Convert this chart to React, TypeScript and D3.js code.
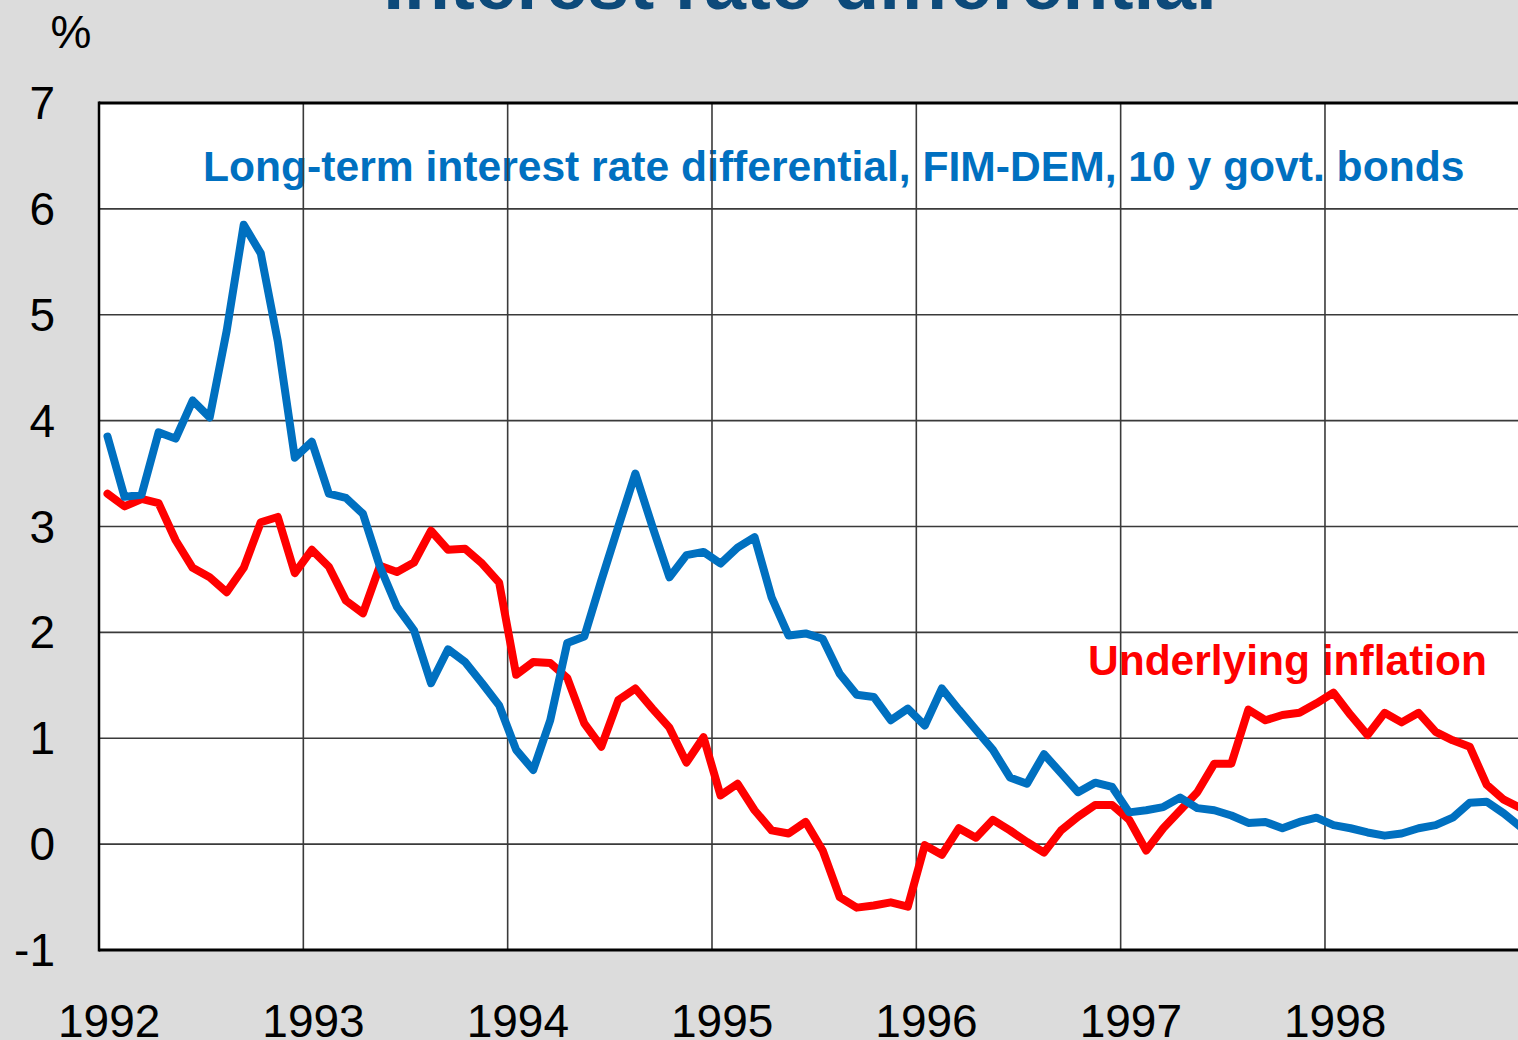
import React, { useEffect, useRef } from 'react';
import * as d3 from 'd3';

// Monthly data, Jan 1992 - Dec 1998 (%)
const years = [1992, 1993, 1994, 1995, 1996, 1997, 1998];
const yTicks = [-1, 0, 1, 2, 3, 4, 5, 6, 7];

const bondDiff = [
  3.85, 3.28, 3.30, 3.89, 3.83, 4.19, 4.03, 4.85, 5.85, 5.58, 4.75, 3.65,
  3.80, 3.31, 3.27, 3.12, 2.62, 2.24, 2.02, 1.52, 1.84, 1.72, 1.52, 1.31,
  0.89, 0.70, 1.17, 1.90, 1.96, 2.49, 3.00, 3.50, 3.00, 2.52, 2.73, 2.76,
  2.65, 2.80, 2.90, 2.33, 1.97, 1.99, 1.94, 1.61, 1.41, 1.39, 1.17, 1.28,
  1.12, 1.47, 1.27, 1.08, 0.89, 0.63, 0.57, 0.85, 0.67, 0.49, 0.58, 0.54,
  0.30, 0.32, 0.35, 0.44, 0.34, 0.32, 0.27, 0.20, 0.21, 0.15, 0.21, 0.25,
  0.18, 0.15, 0.11, 0.08, 0.10, 0.15, 0.18, 0.25, 0.39, 0.40, 0.29, 0.16,
];

const inflation = [
  3.31, 3.19, 3.26, 3.22, 2.87, 2.61, 2.52, 2.38, 2.61, 3.04, 3.09, 2.56,
  2.78, 2.62, 2.30, 2.18, 2.63, 2.57, 2.66, 2.96, 2.78, 2.79, 2.65, 2.47,
  1.60, 1.72, 1.71, 1.57, 1.14, 0.92, 1.36, 1.47, 1.28, 1.10, 0.77, 1.01,
  0.46, 0.57, 0.32, 0.13, 0.10, 0.21, -0.06, -0.50, -0.60, -0.58, -0.55, -0.59,
  -0.01, -0.10, 0.15, 0.06, 0.23, 0.13, 0.02, -0.08, 0.13, 0.26, 0.37, 0.37,
  0.23, -0.06, 0.15, 0.32, 0.49, 0.76, 0.76, 1.27, 1.17, 1.22, 1.24, 1.33,
  1.43, 1.22, 1.03, 1.24, 1.15, 1.24, 1.06, 0.98, 0.92, 0.56, 0.42, 0.34,
];

const App = () => {
  const svgRef = useRef<SVGSVGElement>(null);

  useEffect(() => {
    if (!svgRef.current) return;
    d3.select(svgRef.current).selectAll('*').remove();

    const width = 1518;
    const height = 1040;
    const left = 99;
    const top = 103;
    const bottom = 950;
    const font = '"Liberation Sans", Arial, sans-serif';

    const svg = d3.select(svgRef.current)
      .attr('width', width)
      .attr('height', height);

    svg.append('rect')
      .attr('width', width)
      .attr('height', height)
      .attr('fill', '#dcdcdc');

    // 1992..1999, one year ~204px
    const x = d3.scaleLinear().domain([1992, 1999]).range([left, left + 7 * 204.33]);
    const y = d3.scaleLinear().domain([-1, 7]).range([bottom, top]);

    // Title (mostly cut off at the top)
    svg.append('text')
      .attr('x', 800)
      .attr('y', 9)
      .attr('text-anchor', 'middle')
      .style('font-family', font)
      .style('font-weight', 'bold')
      .style('font-size', '75px')
      .style('fill', '#0d4a7a')
      .text('Interest rate differential');

    // Plot area
    svg.append('rect')
      .attr('x', left)
      .attr('y', top)
      .attr('width', width - left + 10)
      .attr('height', bottom - top)
      .attr('fill', '#ffffff');

    // Series labels (drawn under the grid)
    svg.append('text')
      .attr('x', 203)
      .attr('y', 181)
      .style('font-family', font)
      .style('font-weight', 'bold')
      .style('font-size', '42.6px')
      .style('fill', '#0070c0')
      .text('Long-term interest rate differential, FIM-DEM, 10 y govt. bonds');

    svg.append('text')
      .attr('x', 1088)
      .attr('y', 675)
      .style('font-family', font)
      .style('font-weight', 'bold')
      .style('font-size', '42.5px')
      .style('fill', '#ff0000')
      .text('Underlying inflation');

    // Grid
    const grid = svg.append('g');
    grid.selectAll('.hgrid')
      .data(yTicks.filter(d => d > -1 && d < 7))
      .join('line')
      .attr('x1', left)
      .attr('x2', width)
      .attr('y1', d => y(d))
      .attr('y2', d => y(d))
      .attr('stroke', '#3a3a3a')
      .attr('stroke-width', 1.6);

    grid.selectAll('.vgrid')
      .data(years.slice(1))
      .join('line')
      .attr('x1', d => x(d))
      .attr('x2', d => x(d))
      .attr('y1', top)
      .attr('y2', bottom)
      .attr('stroke', '#3a3a3a')
      .attr('stroke-width', 1.6);

    // Frame
    svg.append('line')
      .attr('x1', left).attr('x2', width)
      .attr('y1', top).attr('y2', top)
      .attr('stroke', '#000').attr('stroke-width', 3);
    svg.append('line')
      .attr('x1', left).attr('x2', width)
      .attr('y1', bottom).attr('y2', bottom)
      .attr('stroke', '#000').attr('stroke-width', 3);
    svg.append('line')
      .attr('x1', left).attr('x2', left)
      .attr('y1', top - 1.5).attr('y2', bottom + 1.5)
      .attr('stroke', '#000').attr('stroke-width', 2.5);

    // Lines
    const monthX = (i: number) => x(1992 + (i + 0.5) / 12);
    const line = d3.line<number>()
      .x((d, i) => monthX(i))
      .y(d => y(d));

    svg.append('path')
      .datum(inflation)
      .attr('d', line)
      .attr('fill', 'none')
      .attr('stroke', '#ff0000')
      .attr('stroke-width', 8)
      .attr('stroke-linejoin', 'round')
      .attr('stroke-linecap', 'round');

    svg.append('path')
      .datum(bondDiff)
      .attr('d', line)
      .attr('fill', 'none')
      .attr('stroke', '#0070c0')
      .attr('stroke-width', 8)
      .attr('stroke-linejoin', 'round')
      .attr('stroke-linecap', 'round');

    // Y axis labels
    svg.selectAll('.ylabel')
      .data(yTicks)
      .join('text')
      .attr('x', 55)
      .attr('y', d => y(d) + 16)
      .attr('text-anchor', 'end')
      .style('font-family', font)
      .style('font-size', '46px')
      .style('fill', '#000')
      .text(d => d);

    svg.append('text')
      .attr('x', 71)
      .attr('y', 48)
      .attr('text-anchor', 'middle')
      .style('font-family', font)
      .style('font-size', '46px')
      .style('fill', '#000')
      .text('%');

    // X axis labels
    svg.selectAll('.xlabel')
      .data(years)
      .join('text')
      .attr('x', d => x(d + 0.05))
      .attr('y', 1037)
      .attr('text-anchor', 'middle')
      .style('font-family', font)
      .style('font-size', '46px')
      .style('fill', '#000')
      .text(d => d);
  }, []);

  return (
    <svg
      ref={svgRef}
      style={{ position: 'absolute', left: 0, top: 0, display: 'block', overflow: 'hidden' }}
    />
  );
};

export default App;
